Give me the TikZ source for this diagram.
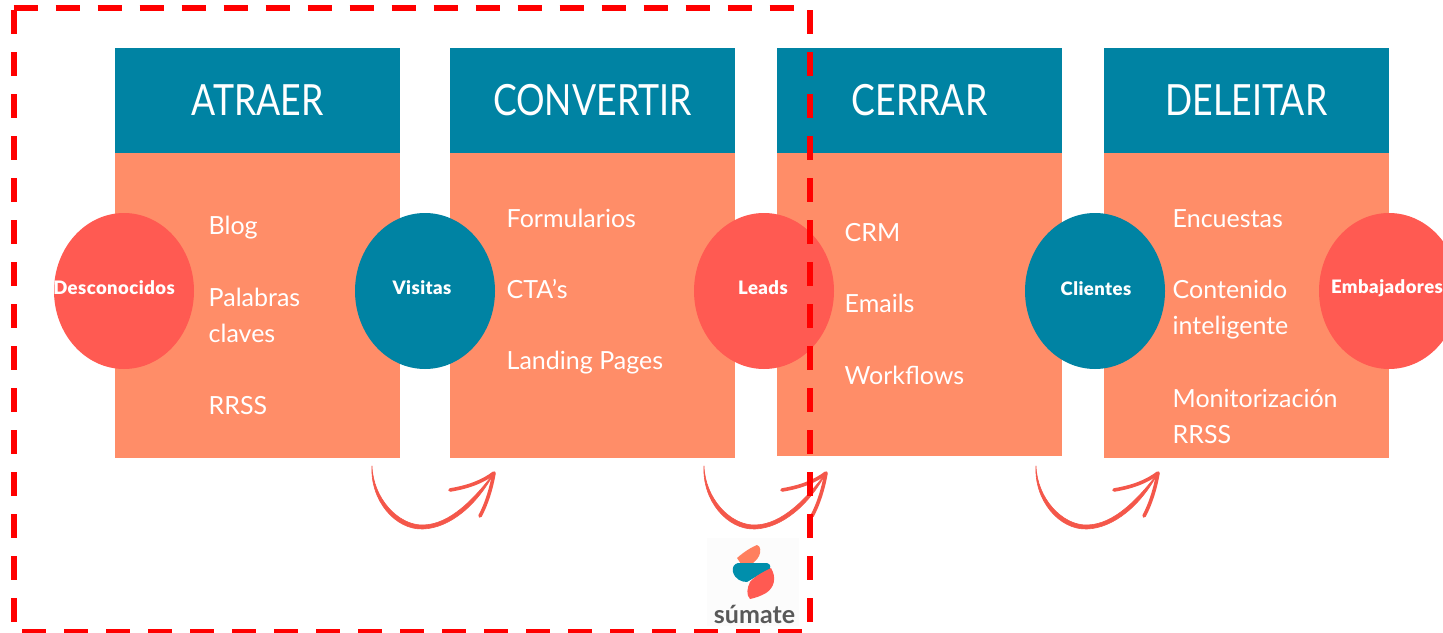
\documentclass[tikz,border=0pt]{standalone}
\usepackage{fontspec}
\setmainfont{Lato}
\newfontfamily\headfont[FakeStretch=0.83]{Lato}
\newfontfamily\labelfont[LetterSpace=2.4]{Lato Black}
\usetikzlibrary{shapes.geometric}
\definecolor{teal1}{HTML}{0083A3}
\definecolor{orange1}{HTML}{FF8D68}
\definecolor{coral1}{HTML}{FF5A52}
\definecolor{arrow1}{HTML}{F4574A}
\definecolor{dash1}{HTML}{FF0000}
\tikzset{
  x=1pt,y=-1pt,
  headbox/.style={fill=teal1,inner sep=0,outer sep=0,minimum height=105pt,minimum width=285pt,text=white,font=\headfont\fontsize{43}{43}\selectfont},
  bodybox/.style={fill=orange1},
  redcirc/.style={ellipse,fill=coral1,inner sep=0,minimum width=140pt,minimum height=156pt},
  bluecirc/.style={ellipse,fill=teal1,inner sep=0,minimum width=140pt,minimum height=156pt},
  circlabel/.style={text=white,inner sep=0,font=\labelfont\fontsize{18.5}{18.5}\selectfont},
  itemtext/.style={anchor=west,text=white,inner sep=0,align=left,font=\fontsize{25}{36}\selectfont},
  curvefill/.style={fill=arrow1,draw=arrow1,line width=0.6pt,line join=round},
  headstroke/.style={draw=arrow1,line width=3.6pt,line cap=round,line join=round},
  frameline/.style={draw=dash1,line width=6pt,dash pattern=on 24pt off 18pt},
}
\begin{document}
\begin{tikzpicture}
\useasboundingbox (0,0) rectangle (1443,632);
\fill[white] (0,0) rectangle (1443,632);
% columns
\path[bodybox] (115,152) rectangle (400,458);
\path[bodybox] (450,152) rectangle (735,458);
\path[bodybox] (777,152) rectangle (1062,456);
\path[bodybox] (1104,152) rectangle (1389,458);
\node[headbox] (h1) at (257.5,100.5) {ATRAER};
\node[headbox] (h2) at (592.5,100.5) {CONVERTIR};
\node[headbox] (h3) at (919.5,100.5) {CERRAR};
\node[headbox] (h4) at (1246.5,100.5) {DELEITAR};
% items
\node[itemtext] (a1) at (208.5,228) {Blog};
\node[itemtext] (a2) at (208.5,315) {Palabras\\claves};
\node[itemtext] (a3) at (208.5,406) {RRSS};
\node[itemtext] (b1) at (506.5,218) {Formularios};
\node[itemtext] (b2) at (506.5,289) {CTA’s};
\node[itemtext] (b3) at (506.5,363) {Landing Pages};
\node[itemtext] (c1) at (844.5,233) {CRM};
\node[itemtext] (c2) at (844.5,303) {Emails};
\node[itemtext] (c3) at (844.5,375) {Workflows};
\node[itemtext] (d1) at (1172.5,219) {Encuestas};
\node[itemtext] (d2) at (1172.5,310) {Contenido\\inteligente};
\node[itemtext] (d3) at (1172.5,416) {Monitorización\\RRSS};
% circles
\node[redcirc] (k1) at (124,291) {};
\node[bluecirc] (k2) at (425,291) {};
\node[redcirc] (k3) at (764,291) {};
\node[bluecirc] (k4) at (1095,291) {};
\node[redcirc] (k5) at (1389,291) {};
\node[circlabel] (t1) at (114,288) {Desconocidos};
\node[circlabel] (t2) at (422,288) {Visitas};
\node[circlabel] (t3) at (763,288) {Leads};
\node[circlabel] (t4) at (1096,289) {Clientes};
\node[circlabel] (t5) at (1387,288) {Embajadores};
% curved arrows
\foreach \n/\dx in {1/0,2/332,3/664}{
  \begin{scope}[shift={(\dx,0)}]
    \coordinate (s\n) at (372,466);
    \coordinate (e\n) at (494,473);
    \path[curvefill] (s\n) .. controls (370,500) and (395,530) .. (423,529) .. controls (450,528) and (477,505) .. (e\n) .. controls (474,499) and (450,524.5) .. (423,525) .. controls (398,525.5) and (373,498) .. (s\n) -- cycle;
    \draw[headstroke] (450,490) .. controls (468,487) and (482,482) .. (e\n) .. controls (491,490) and (486,505) .. (480,516);
  \end{scope}
}
% logo
\fill[white!99!black] (707,538) rectangle (799,626);
\fill[orange1!90!red] (737,558) .. controls (745,551) and (752,547) .. (757,545) .. controls (761,546) and (761,552) .. (759,556) .. controls (757,560) and (754,562) .. (752,564) -- (741,564) -- cycle;
\fill[teal1!90!cyan] (738,563) -- (767,563) .. controls (771,564) and (771,568) .. (769,570) .. controls (762,573) and (752,579) .. (747,582) .. controls (741,582) and (735,579) .. (733,572) .. controls (732,567) and (734,564) .. (738,563) -- cycle;
\fill[coral1] (771,568) .. controls (777,578) and (774,588) .. (766,593) .. controls (761,596) and (755,598) .. (750,599) .. controls (746,595) and (747,588) .. (750,582) .. controls (755,576) and (763,572) .. (771,568) -- cycle;
\node[text=black!65,font=\bfseries\fontsize{25}{25}\selectfont,inner sep=0] (logo) at (754.5,614) {súmate};
% frame
\draw[frameline] (13.5,8) -- (800,8);
\draw[frameline] (13.7,10) -- (13.7,625);
\draw[frameline] (810,10) -- (810,625);
\draw[frameline] (22,632) -- (805,632);
\end{tikzpicture}
\end{document}
